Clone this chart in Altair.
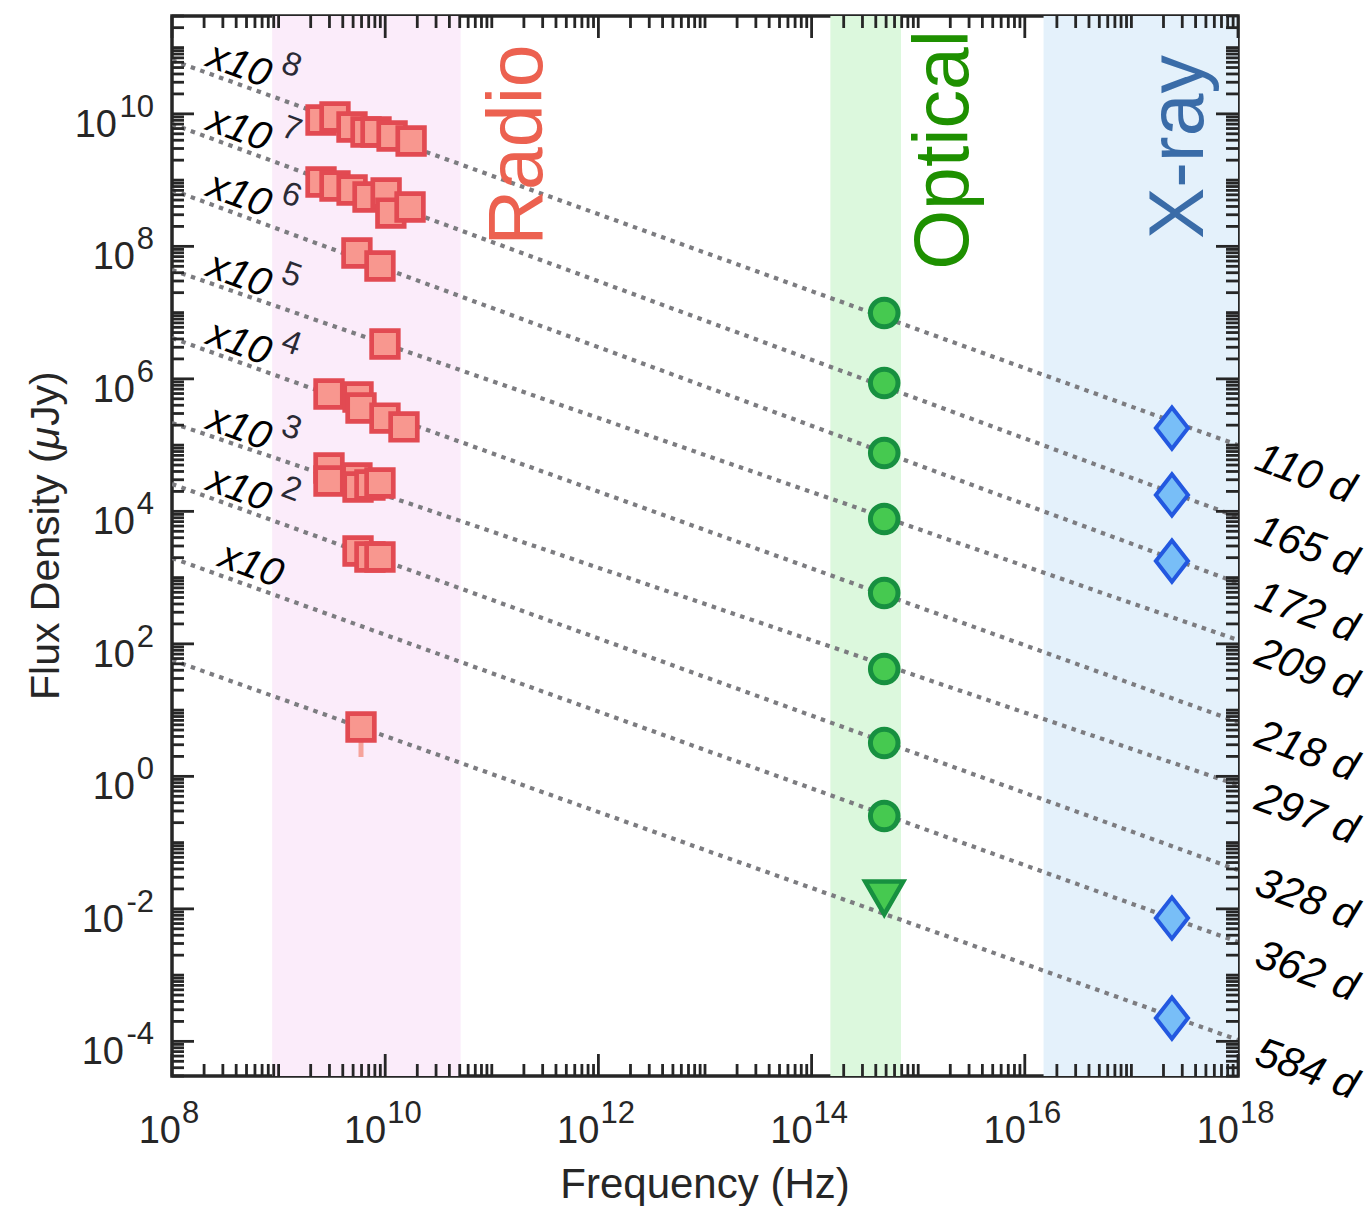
import altair as alt
import pandas as pd

# ---------------- data ----------------
epochs = ["110 d", "165 d", "172 d", "209 d", "218 d", "297 d", "328 d", "362 d", "584 d"]
offset_exp = [8, 7, 6, 5, 4, 3, 2, 1, 0]          # plotted flux = flux * 10**offset_exp
fit_flux_1e8 = [646.0, 703.0, 710.0, 440.0, 414.0, 216.0, 259.0, 198.0, 57.0]   # uJy at 1e8 Hz
fit_flux_1e18 = [1.0e-3, 8.2e-4, 8.3e-4, 1.14e-3, 6.6e-4, 7.4e-4, 3.85e-4, 3.16e-4, 1.05e-4]  # uJy at 1e18 Hz

radio_epoch = ["110 d", "110 d", "110 d", "110 d", "110 d", "110 d", "110 d",
               "165 d", "165 d", "165 d", "165 d", "165 d", "165 d", "165 d",
               "172 d", "172 d",
               "209 d",
               "218 d", "218 d", "218 d", "218 d", "218 d",
               "297 d", "297 d", "297 d", "297 d", "297 d", "297 d",
               "328 d", "328 d", "328 d",
               "584 d"]
radio_freq_ghz = [2.50, 3.38, 4.88, 6.61, 8.20, 11.6, 17.5,
                  2.50, 3.38, 4.89, 6.90, 10.2, 11.3, 17.1,
                  5.43, 8.93,
                  9.95,
                  2.97, 5.56, 5.93, 9.95, 15.0,
                  2.97, 2.97, 5.43, 5.56, 7.19, 8.93,
                  5.56, 7.19, 8.93,
                  5.93]
radio_flux = [80.7, 89.7, 63.4, 53.2, 53.2, 46.3, 38.9,
              93.5, 81.5, 71.0, 55.6, 63.8, 31.8, 39.3,
              79.4, 50.5,
              33.6,
              59.0, 53.2, 36.3, 25.6, 18.8,
              45.1, 28.7, 31.9, 23.3, 25.0, 26.8,
              25.2, 20.5, 20.5,
              5.56]
radio_err_epoch = ["584 d"]
radio_err_freq_ghz = [5.93]
radio_err_lo = [1.96]
radio_err_hi = [8.0]

optical_epoch = ["110 d", "165 d", "172 d", "209 d", "218 d", "297 d", "328 d", "362 d"]
optical_freq = 4.8e14
optical_flux = [0.0986, 0.0865, 0.0760, 0.0767, 0.0586, 0.0417, 0.0318, 0.0252]
optical_ul_epoch = ["584 d"]
optical_ul_flux = [0.0146]

xray_epoch = ["110 d", "165 d", "172 d", "362 d", "584 d"]
xray_freq = 2.4e17
xray_flux = [1.81e-3, 1.77e-3, 1.78e-3, 7.28e-4, 2.25e-4]

band_names = ["Radio", "Optical", "X-ray"]
band_lo = [8.7e8, 1.5e14, 1.5e16]
band_hi = [5.1e10, 6.9e14, 1e18]
band_fill = ["#FBECFA", "#DCF8DD", "#E4F1FB"]
band_text_color = ["#EC6150", "#1E9000", "#3A6CA8"]

x_label_exps = [8, 10, 12, 14, 16, 18]
y_label_exps = [-4, -2, 0, 2, 4, 6, 8, 10]

# ---------------- layout ----------------
W, H = 1066, 1060
FONT = "Liberation Sans"
INK = "#262626"
xs = alt.Scale(type="log", domain=[1e8, 1e18], nice=False)
ys = alt.Scale(type="log", domain=[3e-5, 3e11], nice=False)
scale_of = {e: 10.0 ** k for e, k in zip(epochs, offset_exp)}

X = lambda f: alt.X(f, type="quantitative", scale=xs, axis=None)
Y = lambda f: alt.Y(f, type="quantitative", scale=ys, axis=None)

# bands
bands = pd.DataFrame({"band": band_names, "lo": band_lo, "hi": band_hi})
band_layer = alt.Chart(bands).mark_rect(clip=True).encode(
    x=X("lo"), x2="hi", y=alt.value(0), y2=alt.value(H),
    color=alt.Color("band:N", scale=alt.Scale(domain=band_names, range=band_fill), legend=None),
)

# power-law fit lines
line_rows = []
for e, a, b in zip(epochs, fit_flux_1e8, fit_flux_1e18):
    line_rows.append({"epoch": e, "nu": 1e8, "f": a * scale_of[e]})
    line_rows.append({"epoch": e, "nu": 1e18, "f": b * scale_of[e]})
lines = pd.DataFrame(line_rows)
line_layer = alt.Chart(lines).mark_line(
    color="#7C7C80", strokeWidth=4.2, strokeDash=[4.5, 5.5], strokeCap="butt", clip=True
).encode(x=X("nu"), y=Y("f"), detail="epoch:N")

# ticks
x_major = [10.0 ** e for e in x_label_exps]
x_minor = [float(k * 10 ** n) for n in range(8, 18) for k in range(1, 10)
           if not (k == 1 and n in x_label_exps)]
y_major = [10.0 ** e for e in y_label_exps]
y_minor = [k * 10.0 ** n for n in range(-5, 12) for k in range(1, 10)
           if 3e-5 <= k * 10.0 ** n <= 3e11 and not (k == 1 and n in y_label_exps)]
dxmaj = pd.DataFrame({"v": x_major}); dxmin = pd.DataFrame({"v": x_minor})
dymaj = pd.DataFrame({"v": y_major}); dymin = pd.DataFrame({"v": y_minor})
LMAJ, LMIN = 22, 12
tick = dict(color=INK, strokeWidth=2.8)
tick_layers = [
    alt.Chart(dxmaj).mark_rule(**tick).encode(x=X("v"), y=alt.value(H), y2=alt.value(H - LMAJ)),
    alt.Chart(dxmin).mark_rule(**tick).encode(x=X("v"), y=alt.value(H), y2=alt.value(H - LMIN)),
    alt.Chart(dxmaj).mark_rule(**tick).encode(x=X("v"), y=alt.value(0), y2=alt.value(LMAJ)),
    alt.Chart(dxmin).mark_rule(**tick).encode(x=X("v"), y=alt.value(0), y2=alt.value(LMIN)),
    alt.Chart(dymaj).mark_rule(**tick).encode(y=Y("v"), x=alt.value(0), x2=alt.value(LMAJ)),
    alt.Chart(dymin).mark_rule(**tick).encode(y=Y("v"), x=alt.value(0), x2=alt.value(LMIN)),
    alt.Chart(dymaj).mark_rule(**tick).encode(y=Y("v"), x=alt.value(W), x2=alt.value(W - LMAJ)),
    alt.Chart(dymin).mark_rule(**tick).encode(y=Y("v"), x=alt.value(W), x2=alt.value(W - LMIN)),
]

# tick labels (10 with superscript exponent)
BASE_FS, EXP_FS = 38, 31
xl = pd.DataFrame({"v": x_major, "base": ["10"] * len(x_major),
                   "exp": [str(e) for e in x_label_exps]})
xl["n"] = xl["exp"].str.len()
xlab_layers = []
for n, dx in [(1, 9), (2, 1)]:
    sub = xl[xl["n"] == n]
    xlab_layers.append(alt.Chart(sub).mark_text(
        align="right", baseline="alphabetic", dx=dx, fontSize=BASE_FS, font=FONT, color=INK
    ).encode(x=X("v"), y=alt.value(H + 67), text="base:N"))
    xlab_layers.append(alt.Chart(sub).mark_text(
        align="left", baseline="alphabetic", dx=dx + 1, fontSize=EXP_FS, font=FONT, color=INK
    ).encode(x=X("v"), y=alt.value(H + 47), text="exp:N"))

yl = pd.DataFrame({"v": y_major, "base": ["10"] * len(y_major),
                   "exp": [str(e) for e in y_label_exps]})
yl["grp"] = ["neg" if e < 0 else ("two" if e >= 10 else "one") for e in y_label_exps]
ylab_layers = []
for g, bx in [("one", -37), ("two", -55), ("neg", -48)]:
    sub = yl[yl["grp"] == g]
    ylab_layers.append(alt.Chart(sub).mark_text(
        align="right", baseline="alphabetic", dy=23, fontSize=BASE_FS, font=FONT, color=INK
    ).encode(y=Y("v"), x=alt.value(bx), text="base:N"))
ylab_layers.append(alt.Chart(yl).mark_text(
    align="right", baseline="alphabetic", dy=3, fontSize=EXP_FS, font=FONT, color=INK
).encode(y=Y("v"), x=alt.value(-18), text="exp:N"))

# markers
radio = pd.DataFrame({"epoch": radio_epoch, "nu": [g * 1e9 for g in radio_freq_ghz], "flux": radio_flux})
radio["f"] = radio["flux"] * radio["epoch"].map(scale_of)
radio_err = pd.DataFrame({"epoch": radio_err_epoch, "nu": [g * 1e9 for g in radio_err_freq_ghz],
                          "lo": radio_err_lo, "hi": radio_err_hi})
radio_err["flo"] = radio_err["lo"] * radio_err["epoch"].map(scale_of)
radio_err["fhi"] = radio_err["hi"] * radio_err["epoch"].map(scale_of)
err_layer = alt.Chart(radio_err).mark_rule(color="#F6A39B", strokeWidth=5).encode(
    x=X("nu"), y=Y("flo"), y2="fhi")
radio_layer = alt.Chart(radio).mark_point(
    shape="square", filled=True, fill="#F8978F", stroke="#E24A52", strokeWidth=4.7,
    size=710, opacity=1, strokeOpacity=1, fillOpacity=1
).encode(x=X("nu"), y=Y("f"))

opt = pd.DataFrame({"epoch": optical_epoch, "flux": optical_flux})
opt["nu"] = optical_freq
opt["f"] = opt["flux"] * opt["epoch"].map(scale_of)
opt_layer = alt.Chart(opt).mark_point(
    shape="circle", filled=True, fill="#46C950", stroke="#179040", strokeWidth=5,
    size=760, opacity=1, strokeOpacity=1, fillOpacity=1
).encode(x=X("nu"), y=Y("f"))
optul = pd.DataFrame({"epoch": optical_ul_epoch, "flux": optical_ul_flux})
optul["nu"] = optical_freq
optul["f"] = optul["flux"] * optul["epoch"].map(scale_of)
optul_layer = alt.Chart(optul).mark_point(
    shape="triangle-down", filled=True, fill="#46C950", stroke="#179040", strokeWidth=4.5,
    size=1450, opacity=1, strokeOpacity=1, fillOpacity=1, strokeJoin="miter"
).encode(x=X("nu"), y=Y("f"))

xr = pd.DataFrame({"epoch": xray_epoch, "flux": xray_flux})
xr["nu"] = xray_freq
xr["f"] = xr["flux"] * xr["epoch"].map(scale_of)
xr_layer = alt.Chart(xr).mark_point(
    shape="M0,-1L0.78,0L0,1L-0.78,0Z", filled=True, fill="#78BEF7", stroke="#2358E0",
    strokeWidth=4, size=1700, opacity=1, strokeOpacity=1, fillOpacity=1, strokeJoin="miter"
).encode(x=X("nu"), y=Y("f"))

# epoch labels on the right
rl = pd.DataFrame({"epoch": epochs, "nu": 1e18,
                   "f": [b * scale_of[e] for e, b in zip(epochs, fit_flux_1e18)]})
right_labels = alt.Chart(rl).mark_text(
    angle=20, align="left", baseline="middle", dx=22, dy=4, fontSize=42,
    fontStyle="italic", font=FONT, color="#000000"
).encode(x=X("nu"), y=Y("f"), text="epoch:N")

# scale-factor labels on the left
ll = pd.DataFrame({"epoch": epochs, "nu": 1e8,
                   "f": [a * scale_of[e] for e, a in zip(epochs, fit_flux_1e8)],
                   "k": offset_exp})
ll = ll[ll["k"] > 0].copy()
ll["base"] = "x10"
ll["exp"] = [str(k) if k > 1 else "" for k in ll["k"]]
left_layers = [
    alt.Chart(ll[ll["k"] > 1]).mark_text(
        angle=20, align="center", baseline="middle", dx=65, dy=-18, fontSize=40,
        fontStyle="italic", font=FONT, color="#000000"
    ).encode(x=X("nu"), y=Y("f"), text="base:N"),
    alt.Chart(ll[ll["k"] == 1]).mark_text(
        angle=20, align="center", baseline="middle", dx=77, dy=-20, fontSize=40,
        fontStyle="italic", font=FONT, color="#000000"
    ).encode(x=X("nu"), y=Y("f"), text="base:N"),
    alt.Chart(ll[ll["k"] > 1]).mark_text(
        angle=20, align="center", baseline="middle", dx=114, dy=-36, fontSize=33,
        font=FONT, color="#2A2A35"
    ).encode(x=X("nu"), y=Y("f"), text="exp:N"),
]

# band names
one = pd.DataFrame({"a": [0]})
band_label_pos = [(370, 129), (796, 134), (1031, 131)]
band_label_layers = [
    alt.Chart(one).mark_text(angle=270, align="center", baseline="alphabetic",
                             fontSize=77, font=FONT, color=c).encode(
        x=alt.value(px), y=alt.value(py), text=alt.value(t))
    for t, c, (px, py) in zip(band_names, band_text_color, band_label_pos)
]

# axis titles
TFS = 41
title_layers = [
    alt.Chart(one).mark_text(align="center", baseline="alphabetic", fontSize=42,
                             font=FONT, color=INK).encode(
        x=alt.value(W / 2), y=alt.value(H + 122), text=alt.value("Frequency (Hz)")),
    alt.Chart(one).mark_text(angle=270, align="left", baseline="alphabetic", fontSize=TFS,
                             font=FONT, color=INK).encode(
        x=alt.value(-113), y=alt.value(684), text=alt.value("Flux Density (")),
    alt.Chart(one).mark_text(angle=270, align="left", baseline="alphabetic", fontSize=TFS,
                             fontStyle="italic", font=FONT, color=INK).encode(
        x=alt.value(-113), y=alt.value(684 - 250.6), text=alt.value("\u03bc")),
    alt.Chart(one).mark_text(angle=270, align="left", baseline="alphabetic", fontSize=TFS,
                             font=FONT, color=INK).encode(
        x=alt.value(-113), y=alt.value(684 - 250.6 - 23.5), text=alt.value("Jy)")),
]

layers = ([band_layer, line_layer] + tick_layers + [err_layer, radio_layer, opt_layer,
          optul_layer, xr_layer, right_labels] + left_layers + xlab_layers + ylab_layers
          + band_label_layers + title_layers)

chart = alt.layer(*layers).properties(
    width=W, height=H,
    padding={"left": 172, "top": 16, "right": 134, "bottom": 130},
    autosize=alt.AutoSizeParams(type="none"),
    background="white",
).configure_view(stroke=INK, strokeWidth=3.5)

chart.save("out.html", embed_options={"renderer": "svg", "actions": False})
